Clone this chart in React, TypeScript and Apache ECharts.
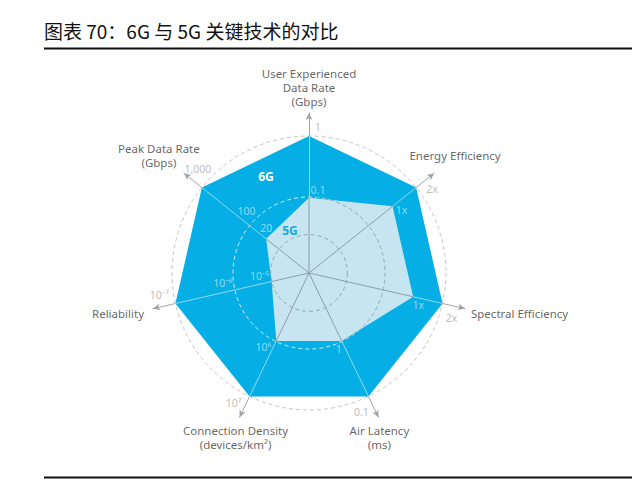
import React, { useEffect, useRef } from 'react';
import * as echarts from 'echarts';

// ---- data (axes listed counter-clockwise from the top, as the radar draws them) ----
const indicatorNames = [
  'User Experienced\nData Rate\n(Gbps)',
  'Peak Data Rate\n(Gbps)',
  'Reliability',
  'Connection Density\n(devices/km²)',
  'Air Latency\n(ms)',
  'Spectral Efficiency',
  'Energy Efficiency',
];
const score6G = [1, 1, 1, 1, 1, 1, 1];
const score5G = [0.55, 0.4, 0.28, 0.55, 0.55, 0.78, 0.78];
const tick6G = ['1', '1,000', '10⁻⁷', '10⁷', '0.1', '2x', '2x'];
const tick5G = ['0.1', '20', '10⁻⁵', '10⁶', '1', '1x', '1x'];
const midTickAxis = [2, 1];
const midTickText = ['10⁻⁶', '100'];
const ringLevels = [0.28, 0.555, 1];

// ---- layout ----
const CX = 309;
const CY = 273;
const R = 137;
const R_ARROW = 160;
const AIR_INDEX = 4;
const NAME_OFFSETS = [[0, -26], [-25, -18], [-9, 5], [-4, 20], [1, 20], [6, 5], [21, -18]];
const NAME_ALIGN = ['center', 'center', 'right', 'center', 'center', 'left', 'center'];
const TICK6_OFFSETS = [[9, -9], [-4, -19], [-16, -8], [-16, 7], [-7, 16], [9, 15], [16, 1]];
const TICK5_OFFSETS = [[9, -8], [0, -11], [-12, -6], [-13, 6], [-3, 8], [5, 8], [9, 4]];
const MID_OFFSETS = [[-12, -7], [-3, -15]];

const FONT = '"Noto Sans", sans-serif';
const LIGHT = '#b5e3f4';

export default function App() {
  const ref = useRef<HTMLDivElement>(null);
  useEffect(() => {
    if (!ref.current) return;
    const chart = echarts.init(ref.current, null, { renderer: 'svg' });
    const n = indicatorNames.length;
    const blankInd = indicatorNames.map(() => ({ name: '', min: 0, max: 1 }));
    const baseRadar = {
      center: [CX, CY],
      shape: 'circle',
      startAngle: 90,
      indicator: blankInd,
      axisName: { show: false },
      axisTick: { show: false },
      axisLabel: { show: false },
      splitArea: { show: false },
      silent: true,
    };
    const labelItems: any[] = [];
    indicatorNames.forEach((name, i) => {
      labelItems.push({
        value: [R_ARROW / R, i],
        label: {
          formatter: name, offset: NAME_OFFSETS[i], align: NAME_ALIGN[i],
          color: '#3c3c3c', fontSize: 11.5, lineHeight: 14, fontFamily: FONT,
        },
      });
      labelItems.push({
        value: [score6G[i], i],
        label: { formatter: tick6G[i], offset: TICK6_OFFSETS[i], color: '#ababab', fontSize: 10.5, fontFamily: FONT },
      });
      labelItems.push({
        value: [score5G[i], i],
        label: { formatter: tick5G[i], offset: TICK5_OFFSETS[i], color: LIGHT, fontSize: 10.5, fontFamily: FONT },
      });
    });
    midTickAxis.forEach((ax, k) => {
      labelItems.push({
        value: [ringLevels[1], ax],
        label: { formatter: midTickText[k], offset: MID_OFFSETS[k], color: LIGHT, fontSize: 10.5, fontFamily: FONT },
      });
    });
    const spokeData: any[] = [];
    score5G.forEach((v, i) => {
      spokeData.push([0, i], [v, i], '-');
    });
    // canvas angle of the Air Latency spoke (counter-clockwise index → clockwise canvas angle)
    const airAngle = -Math.PI / 2 + ((n - AIR_INDEX) * 2 * Math.PI) / n;

    chart.setOption({
      animation: false,
      backgroundColor: '#ffffff',
      title: {
        text: '图表 70：6G 与 5G 关键技术的对比',
        left: 44, top: 21, padding: 0,
        textStyle: { fontSize: 19, fontWeight: 'normal', color: '#111', fontFamily: '"Noto Sans CJK SC", sans-serif' },
      },
      polar: { center: [CX, CY], radius: R },
      angleAxis: { type: 'value', min: 0, max: n, startAngle: 90, clockwise: false, show: false },
      radiusAxis: { type: 'value', min: 0, max: 1, show: false },
      radar: [
        {
          ...baseRadar, radius: R_ARROW, z: 1,
          axisLine: { show: true, symbol: ['none', 'arrow'], symbolSize: [5, 7], lineStyle: { color: '#a3a3a3', width: 1 } },
          splitLine: { show: false },
        },
        {
          ...baseRadar, radius: R, z: 1, splitNumber: 1,
          indicator: indicatorNames.map((nm) => ({ name: nm, min: 0, max: 1 })),
          axisLine: { show: false },
          splitLine: { show: true, lineStyle: { color: '#cfc2c2', width: 1, type: [4, 3] } },
        },
        {
          ...baseRadar, radius: R, z: 3, splitNumber: 1,
          axisLine: { show: true, lineStyle: { color: 'rgba(255,255,255,0.55)', width: 1 } },
          splitLine: { show: false },
        },
        {
          ...baseRadar, radius: R * ringLevels[1], z: 3, splitNumber: 1,
          axisLine: { show: false },
          splitLine: { show: true, lineStyle: { color: 'rgba(255,255,255,0.8)', width: 1, type: [4, 3] } },
        },
        {
          ...baseRadar, radius: R * ringLevels[0], z: 5, splitNumber: 1,
          axisLine: { show: false },
          splitLine: { show: true, lineStyle: { color: '#98a6ac', width: 1, type: [4, 3] } },
        },
      ],
      series: [
        {
          type: 'radar', radarIndex: 1, z: 2, symbol: 'none', silent: true,
          lineStyle: { width: 0 },
          areaStyle: { color: '#05aee5', opacity: 1 },
          data: [{ name: '6G', value: score6G }],
        },
        {
          type: 'radar', radarIndex: 1, z: 4, symbol: 'none', silent: true,
          lineStyle: { width: 0 },
          areaStyle: { color: '#c6e5f1', opacity: 1 },
          data: [{ name: '5G', value: score5G }],
        },
        {
          type: 'line', coordinateSystem: 'polar', z: 5, symbol: 'none', silent: true,
          connectNulls: false,
          lineStyle: { color: '#8f9da4', width: 1 },
          data: spokeData,
        },
        {
          type: 'scatter', coordinateSystem: 'polar', z: 6, clip: false, silent: true,
          symbolSize: 1, itemStyle: { color: 'rgba(0,0,0,0)' },
          label: { show: true, position: 'inside' },
          data: labelItems,
        },
      ],
      graphic: [
        { type: 'line', z: 10, silent: true, shape: { x1: 44, y1: 48.5, x2: 632, y2: 48.5 }, style: { stroke: '#111', lineWidth: 2 } },
        { type: 'line', z: 10, silent: true, shape: { x1: 44, y1: 477.5, x2: 632, y2: 477.5 }, style: { stroke: '#111', lineWidth: 2 } },
        {
          type: 'arc', z: 5, silent: true,
          shape: { cx: CX, cy: CY, r: R * ringLevels[1], startAngle: -Math.PI / 2, endAngle: airAngle, clockwise: true },
          style: { stroke: '#98a6ac', lineWidth: 1, lineDash: [4, 3], fill: 'none' },
        },
        {
          type: 'text', z: 10, silent: true, x: 266, y: 176,
          style: { text: '6G', fill: '#ffffff', font: `bold 12px ${FONT}`, align: 'center', verticalAlign: 'middle' },
        },
        {
          type: 'text', z: 10, silent: true, x: 290, y: 230,
          style: { text: '5G', fill: '#22a5d8', font: `bold 12px ${FONT}`, align: 'center', verticalAlign: 'middle' },
        },
      ],
    });
    return () => chart.dispose();
  }, []);
  return <div ref={ref} style={{ position: 'absolute', left: 0, top: 0, width: 640, height: 480 }} />;
}
